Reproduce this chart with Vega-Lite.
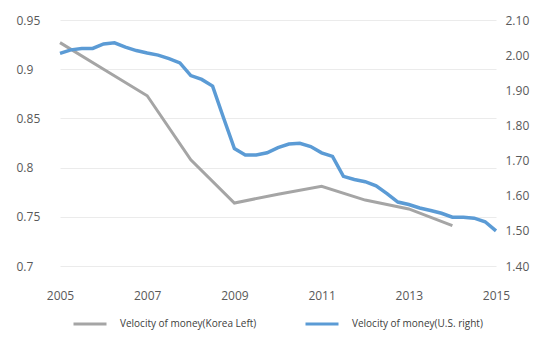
{
  "$schema": "https://vega.github.io/schema/vega-lite/v6.json",
  "width": 436,
  "height": 246,
  "autosize": {"type": "none"},
  "padding": {"left": 60, "top": 20, "right": 43, "bottom": 71},
  "background": "white",
  "config": {
    "font": "Open Sans",
    "view": {"stroke": null},
    "axis": {"labelColor": "#595959", "labelFontSize": 12, "ticks": false, "tickSize": 0, "domain": false, "title": null}
  },
  "data": {
    "values": [
      {"year": 2005, "value": 0.927, "series": "Velocity of money(Korea Left)"},
      {"year": 2006, "value": 0.900, "series": "Velocity of money(Korea Left)"},
      {"year": 2007, "value": 0.873, "series": "Velocity of money(Korea Left)"},
      {"year": 2008, "value": 0.808, "series": "Velocity of money(Korea Left)"},
      {"year": 2009, "value": 0.764, "series": "Velocity of money(Korea Left)"},
      {"year": 2010, "value": 0.773, "series": "Velocity of money(Korea Left)"},
      {"year": 2011, "value": 0.781, "series": "Velocity of money(Korea Left)"},
      {"year": 2012, "value": 0.767, "series": "Velocity of money(Korea Left)"},
      {"year": 2013, "value": 0.758, "series": "Velocity of money(Korea Left)"},
      {"year": 2014, "value": 0.741, "series": "Velocity of money(Korea Left)"},

      {"year": 2005.00, "value": 2.005, "series": "Velocity of money(U.S. right)"},
      {"year": 2005.25, "value": 2.015, "series": "Velocity of money(U.S. right)"},
      {"year": 2005.50, "value": 2.019, "series": "Velocity of money(U.S. right)"},
      {"year": 2005.75, "value": 2.019, "series": "Velocity of money(U.S. right)"},
      {"year": 2006.00, "value": 2.032, "series": "Velocity of money(U.S. right)"},
      {"year": 2006.25, "value": 2.035, "series": "Velocity of money(U.S. right)"},
      {"year": 2006.50, "value": 2.023, "series": "Velocity of money(U.S. right)"},
      {"year": 2006.75, "value": 2.013, "series": "Velocity of money(U.S. right)"},
      {"year": 2007.00, "value": 2.006, "series": "Velocity of money(U.S. right)"},
      {"year": 2007.25, "value": 2.000, "series": "Velocity of money(U.S. right)"},
      {"year": 2007.50, "value": 1.990, "series": "Velocity of money(U.S. right)"},
      {"year": 2007.75, "value": 1.978, "series": "Velocity of money(U.S. right)"},
      {"year": 2008.00, "value": 1.942, "series": "Velocity of money(U.S. right)"},
      {"year": 2008.25, "value": 1.931, "series": "Velocity of money(U.S. right)"},
      {"year": 2008.50, "value": 1.912, "series": "Velocity of money(U.S. right)"},
      {"year": 2008.75, "value": 1.822, "series": "Velocity of money(U.S. right)"},
      {"year": 2009.00, "value": 1.734, "series": "Velocity of money(U.S. right)"},
      {"year": 2009.25, "value": 1.716, "series": "Velocity of money(U.S. right)"},
      {"year": 2009.50, "value": 1.716, "series": "Velocity of money(U.S. right)"},
      {"year": 2009.75, "value": 1.722, "series": "Velocity of money(U.S. right)"},
      {"year": 2010.00, "value": 1.737, "series": "Velocity of money(U.S. right)"},
      {"year": 2010.25, "value": 1.747, "series": "Velocity of money(U.S. right)"},
      {"year": 2010.50, "value": 1.749, "series": "Velocity of money(U.S. right)"},
      {"year": 2010.75, "value": 1.740, "series": "Velocity of money(U.S. right)"},
      {"year": 2011.00, "value": 1.722, "series": "Velocity of money(U.S. right)"},
      {"year": 2011.25, "value": 1.712, "series": "Velocity of money(U.S. right)"},
      {"year": 2011.50, "value": 1.655, "series": "Velocity of money(U.S. right)"},
      {"year": 2011.75, "value": 1.646, "series": "Velocity of money(U.S. right)"},
      {"year": 2012.00, "value": 1.640, "series": "Velocity of money(U.S. right)"},
      {"year": 2012.25, "value": 1.628, "series": "Velocity of money(U.S. right)"},
      {"year": 2012.50, "value": 1.606, "series": "Velocity of money(U.S. right)"},
      {"year": 2012.75, "value": 1.582, "series": "Velocity of money(U.S. right)"},
      {"year": 2013.00, "value": 1.575, "series": "Velocity of money(U.S. right)"},
      {"year": 2013.25, "value": 1.565, "series": "Velocity of money(U.S. right)"},
      {"year": 2013.50, "value": 1.558, "series": "Velocity of money(U.S. right)"},
      {"year": 2013.75, "value": 1.550, "series": "Velocity of money(U.S. right)"},
      {"year": 2014.00, "value": 1.539, "series": "Velocity of money(U.S. right)"},
      {"year": 2014.25, "value": 1.539, "series": "Velocity of money(U.S. right)"},
      {"year": 2014.50, "value": 1.536, "series": "Velocity of money(U.S. right)"},
      {"year": 2014.75, "value": 1.526, "series": "Velocity of money(U.S. right)"},
      {"year": 2015.00, "value": 1.500, "series": "Velocity of money(U.S. right)"}
    ]
  },
  "encoding": {
    "x": {
      "field": "year",
      "type": "quantitative",
      "scale": {"domain": [2005, 2015], "nice": false, "zero": false},
      "axis": {"values": [2005, 2007, 2009, 2011, 2013, 2015], "format": "d", "grid": false, "labelFlush": false, "labelPadding": 24}
    },
    "color": {
      "field": "series",
      "type": "nominal",
      "scale": {
        "domain": ["Velocity of money(Korea Left)", "Velocity of money(U.S. right)"],
        "range": ["#a5a5a5", "#5b9bd5"]
      },
      "legend": {
        "title": null,
        "orient": "none",
        "direction": "horizontal",
        "legendX": 12,
        "legendY": 286,
        "padding": 0,
        "symbolType": "stroke",
        "symbolSize": 1089,
        "symbolStrokeWidth": 3,
        "labelFontSize": 10,
        "labelColor": "#404040",
        "labelOffset": 12,
        "columnPadding": 42
      }
    }
  },
  "layer": [
    {
      "transform": [{"filter": "datum.series === 'Velocity of money(Korea Left)'"}],
      "mark": {"type": "line", "strokeWidth": 3, "interpolate": "linear"},
      "encoding": {
        "y": {
          "field": "value",
          "type": "quantitative",
          "scale": {"domain": [0.7, 0.95], "nice": false, "zero": false},
          "axis": {
            "orient": "left",
            "values": [0.7, 0.75, 0.8, 0.85, 0.9, 0.95],
            "format": "~g",
            "grid": true,
            "gridColor": "#ebebeb",
            "gridWidth": 1,
            "labelAlign": "left",
            "labelPadding": 44
          }
        }
      }
    },
    {
      "transform": [{"filter": "datum.series === 'Velocity of money(U.S. right)'"}],
      "mark": {"type": "line", "strokeWidth": 3.5, "interpolate": "linear"},
      "encoding": {
        "y": {
          "field": "value",
          "type": "quantitative",
          "scale": {"domain": [1.4, 2.1], "nice": false, "zero": false},
          "axis": {
            "orient": "right",
            "values": [1.4, 1.5, 1.6, 1.7, 1.8, 1.9, 2.0, 2.1],
            "format": ".2f",
            "grid": false,
            "labelPadding": 9
          }
        }
      }
    }
  ],
  "resolve": {"scale": {"y": "independent"}}
}
